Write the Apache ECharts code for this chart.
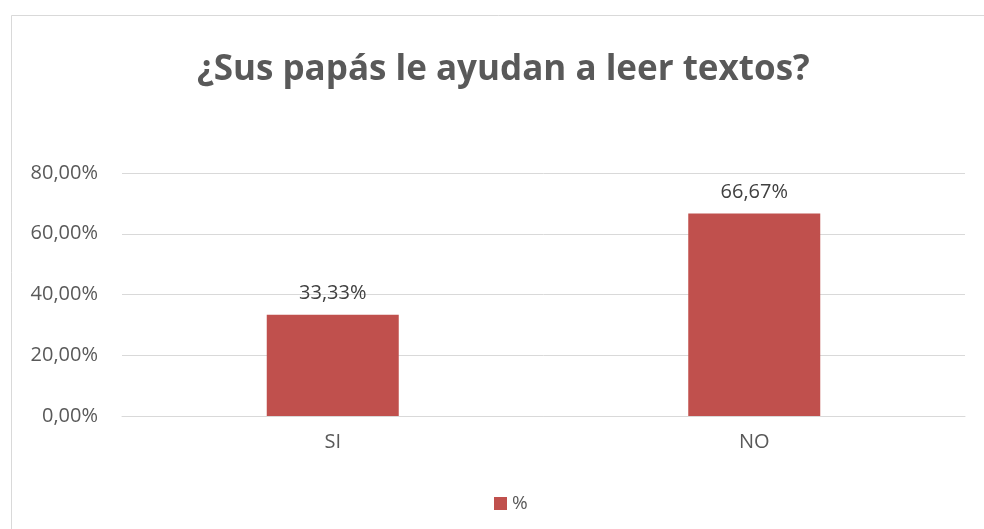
<!DOCTYPE html>
<html>
<head>
<meta charset="utf-8">
<script src="https://cdn.jsdelivr.net/npm/echarts@6/dist/echarts.min.js"></script>
<style>
  html, body { margin: 0; padding: 0; background: #fff; }
  #chart { width: 984px; height: 529px; }
</style>
</head>
<body>
<div id="chart"></div>
<script>
var categories = ['SI', 'NO'];
var values = [33.33, 66.67];
var yTicks = [0, 20, 40, 60, 80];

function fmt(v, d) {
  return v.toFixed(d).replace('.', ',') + '%';
}

var myChart = echarts.init(document.getElementById('chart'));
var option = {
  backgroundColor: '#fff',
  title: {
    text: '¿Sus papás le ayudan a leer textos?',
    left: 192,
    top: 48,
    textStyle: {
      color: '#595959',
      fontFamily: 'Open Sans',
      fontWeight: 'bold',
      fontSize: 35
    }
  },
  graphic: [
    {
      type: 'rect',
      shape: { x: 11.5, y: 15.5, width: 1100, height: 700 },
      style: { fill: 'none', stroke: '#d9d9d9', lineWidth: 1 },
      silent: true
    }
  ],
  legend: {
    data: ['%'],
    top: 489,
    left: 489,
    itemWidth: 13,
    itemHeight: 13,
    itemGap: 8,
    textStyle: { color: '#595959', fontSize: 19, fontFamily: 'Open Sans' },
    icon: 'rect'
  },
  grid: {
    left: 122,
    right: 19,
    top: 173,
    bottom: 113,
    containLabel: false
  },
  xAxis: {
    type: 'category',
    data: categories,
    axisTick: { show: false },
    axisLine: { show: true, lineStyle: { color: '#d9d9d9', width: 1 } },
    axisLabel: {
      color: '#595959',
      fontSize: 20,
      fontFamily: 'Open Sans',
      margin: 16
    }
  },
  yAxis: {
    type: 'value',
    min: yTicks[0],
    max: yTicks[yTicks.length - 1],
    interval: 20,
    axisLine: { show: false },
    axisTick: { show: false },
    splitLine: { lineStyle: { color: '#d9d9d9', width: 1 } },
    axisLabel: {
      color: '#595959',
      fontSize: 20,
      fontFamily: 'Open Sans',
      margin: 24,
      formatter: function (v) { return fmt(v, 2); }
    }
  },
  series: [
    {
      name: '%',
      type: 'bar',
      barWidth: 132,
      data: values,
      itemStyle: { color: '#C0504D' },
      label: {
        show: true,
        position: 'top',
        distance: 11,
        color: '#404040',
        fontSize: 20,
        fontFamily: 'Open Sans',
        formatter: function (p) { return fmt(p.value, 2); }
      }
    }
  ]
};
myChart.setOption(option);
</script>
</body>
</html>
